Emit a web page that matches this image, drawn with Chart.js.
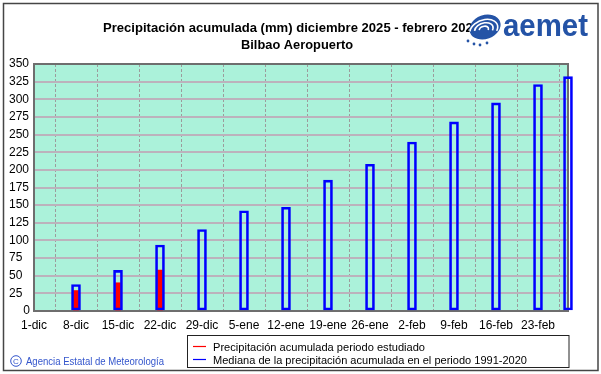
<!DOCTYPE html>
<html><head><meta charset="utf-8">
<script src="https://cdn.jsdelivr.net/npm/chart.js@4"></script>
<style>html,body{margin:0;padding:0;background:#fff;}canvas{display:block;}</style>
</head><body>
<canvas id="c" width="601" height="374"></canvas>
<script>
// ---- data ----
const tickLabels = ['1-dic','8-dic','15-dic','22-dic','29-dic','5-ene','12-ene','19-ene','26-ene','2-feb','9-feb','16-feb','23-feb'];
const tickDays = [0,7,14,21,28,35,42,49,56,63,70,77,84];
const medianDays = [7,14,21,28,35,42,49,56,63,70,77,84,89];
const medianValues = [37.5,57.5,93.5,115.5,142,147,185.5,208,239.5,268,295,321,332];
const observedDays = [7,14,21];
const observedValues = [29,40,58];
const titleLines = ['Precipitación acumulada (mm) diciembre 2025 - febrero 2026','Bilbao Aeropuerto'];
const legendLabels = ['Precipitación acumulada periodo estudiado','Mediana de la precipitación acumulada en el periodo 1991-2020'];
const creditText = 'Agencia Estatal de Meteorología';
const logoText = 'aemet';

const FONT = '"Liberation Sans", Arial, sans-serif';
const BLUE = '#0000ff', RED = '#ff0000';

function fitText(ctx, txt, x, y, target, weight, basePx){
  ctx.font = weight + ' ' + basePx + 'px ' + FONT;
  const w = ctx.measureText(txt).width;
  ctx.save(); ctx.translate(x, y); ctx.scale(target / w, 1); ctx.fillText(txt, 0, 0); ctx.restore();
}

const decor = {
  id: 'decor',
  beforeDraw(chart){
    const {ctx, chartArea:a} = chart;
    ctx.save();
    ctx.fillStyle = '#fff'; ctx.fillRect(0,0,chart.width,chart.height);
    ctx.fillStyle = '#abf2da'; ctx.fillRect(a.left, a.top, a.right-a.left, a.bottom-a.top);
    ctx.restore();
  },
  beforeDatasetsDraw(chart){
    const {ctx, chartArea:a} = chart;
    ctx.save();
    ctx.strokeStyle = '#6e6e6e'; ctx.lineWidth = 2;
    ctx.strokeRect(a.left, a.top, a.right-a.left, a.bottom-a.top);
    ctx.restore();
  },
  afterDraw(chart){
    const ctx = chart.ctx;
    ctx.save();
    // titles
    ctx.fillStyle = '#000'; ctx.textAlign = 'left'; ctx.textBaseline = 'alphabetic';
    fitText(ctx, titleLines[0], 103, 32, 377, 'bold', 13);
    fitText(ctx, titleLines[1], 241, 48.5, 112, 'bold', 13);
    // logo icon
    const LB = '#2453a6';
    ctx.save(); ctx.translate(485, 27); ctx.rotate(-0.35);
    ctx.fillStyle = LB; ctx.beginPath(); ctx.ellipse(0,0,16,12,0,0,Math.PI*2); ctx.fill();
    ctx.strokeStyle = '#fff'; ctx.lineWidth = 1.6;
    [4,8,12].forEach(r => { ctx.beginPath(); ctx.ellipse(-2,2,r*1.2,r*0.8,0,Math.PI*1.1,Math.PI*2.2); ctx.stroke(); });
    ctx.restore();
    ctx.fillStyle = LB;
    [[468,41],[474,44],[480,45],[487,43]].forEach(p => { ctx.beginPath(); ctx.arc(p[0],p[1],1.4,0,Math.PI*2); ctx.fill(); });
    fitText(ctx, logoText, 503, 36, 85, 'bold', 31);
    // legend box
    ctx.strokeStyle = '#222'; ctx.lineWidth = 1;
    ctx.strokeRect(187.5, 335.5, 381.5, 32);
    ctx.lineWidth = 1.2;
    ctx.strokeStyle = RED; ctx.beginPath(); ctx.moveTo(193,346.5); ctx.lineTo(206,346.5); ctx.stroke();
    ctx.strokeStyle = BLUE; ctx.beginPath(); ctx.moveTo(193,359.5); ctx.lineTo(206,359.5); ctx.stroke();
    ctx.fillStyle = '#000';
    fitText(ctx, legendLabels[0], 213, 351, 212, 'normal', 11.5);
    fitText(ctx, legendLabels[1], 213, 363.5, 314, 'normal', 11.5);
    // credit
    const CB = '#3355cc';
    ctx.strokeStyle = CB; ctx.lineWidth = 1;
    ctx.beginPath(); ctx.arc(16, 361, 5.3, 0, Math.PI*2); ctx.stroke();
    ctx.fillStyle = CB; ctx.font = '8px ' + FONT; ctx.textAlign = 'center'; ctx.textBaseline = 'middle';
    ctx.fillText('C', 16, 361.3);
    ctx.textAlign = 'left'; ctx.textBaseline = 'alphabetic';
    fitText(ctx, creditText, 26, 365, 138, 'normal', 10.5);
    // outer frame
    ctx.strokeStyle = '#454545'; ctx.lineWidth = 1.5;
    ctx.strokeRect(3.5, 3.5, 594.5, 367);
    ctx.restore();
  }
};

new Chart(document.getElementById('c'), {
  type: 'bar',
  data: {
    datasets: [
      { label: legendLabels[1], data: medianDays.map((d,i)=>({x:d, y:medianValues[i]})),
        backgroundColor: 'rgba(0,0,0,0)', borderColor: BLUE, borderWidth: 2, borderSkipped: false,
        barThickness: 9, grouped: false, order: 1, clip: false },
      { label: legendLabels[0], data: observedDays.map((d,i)=>({x:d, y:observedValues[i]})),
        backgroundColor: RED, borderWidth: 0, barThickness: 5, grouped: false, order: 2, clip: false }
    ]
  },
  options: {
    responsive: false, devicePixelRatio: 1, animation: false,
    layout: { padding: { left: 9, right: 33, top: 64, bottom: 0 } },
    plugins: { legend: { display: false }, tooltip: { enabled: false }, title: { display: false } },
    scales: {
      x: {
        type: 'linear', min: 0, max: 89, offset: false,
        afterBuildTicks: s => { s.ticks = tickDays.map(v => ({ value: v })); },
        afterFit: s => { s.height = 63; },
        ticks: { autoSkip: false, maxRotation: 0, padding: 7, color: '#000',
                 font: { family: FONT, size: 12 },
                 callback: (v, i) => tickLabels[i] },
        grid: { color: '#9c9c9c', lineWidth: 1, drawTicks: false },
        border: { display: false, dash: [3, 2] }
      },
      y: {
        min: 0, max: 350,
        afterFit: s => { s.width = 25; },
        ticks: { stepSize: 25, crossAlign: 'far', padding: 0, color: '#000',
                 font: { family: FONT, size: 12 },
                 callback: v => v === 0 ? '\u2007\u2007\u200a0' : String(v) },
        grid: { color: '#bcb2bc', lineWidth: 2, drawTicks: false },
        border: { display: false }
      }
    }
  },
  plugins: [decor]
});
</script>
</body></html>
